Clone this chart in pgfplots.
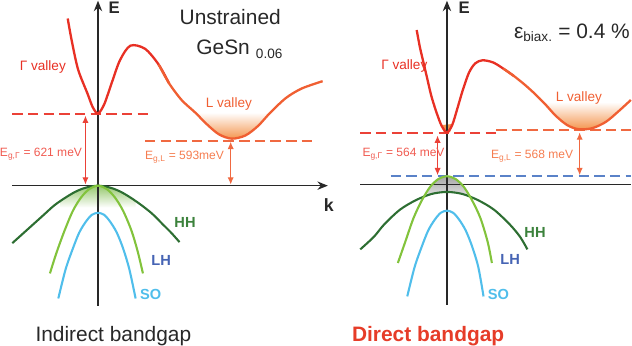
\documentclass[border=0pt]{standalone}
\usepackage{pgfplots}
\pgfplotsset{compat=1.18}
\usepackage{fontspec}
\setmainfont{Liberation Sans}
\usetikzlibrary{arrows.meta}
\definecolor{axgray}{RGB}{40,40,40}
\definecolor{gred}{RGB}{232,48,36}
\definecolor{lorange}{RGB}{240,95,50}
\definecolor{dashred}{RGB}{235,65,55}
\definecolor{dashorange}{RGB}{240,105,65}
\definecolor{eglab}{RGB}{240,90,80}
\definecolor{egllab}{RGB}{245,125,80}
\definecolor{fillorange}{RGB}{244,150,80}
\definecolor{hhgreen}{RGB}{45,110,50}
\definecolor{hhlab}{RGB}{60,130,60}
\definecolor{lhgreen}{RGB}{130,195,60}
\definecolor{socyan}{RGB}{80,190,235}
\definecolor{lhlab}{RGB}{70,100,180}
\definecolor{bluedash}{RGB}{90,130,200}
\definecolor{vbfill}{RGB}{150,200,110}
\definecolor{dirred}{RGB}{230,60,40}
\begin{document}
\begin{tikzpicture}
\begin{axis}[scale only axis, width=632pt, height=344pt,
  xmin=0, xmax=632, ymin=0, ymax=344, y dir=reverse,
  hide axis, clip=false]
% ---------- fills ----------
\addplot[draw=none, top color=white, bottom color=fillorange] coordinates {(195,118) (207,130) (218,139) (230,143) (243,140) (255,131) (267,118)};
\addplot[draw=none, top color=white, bottom color=fillorange] coordinates {(526,108) (530,112) (540,122) (551,130) (562,134) (575,133) (588,127) (600,117) (608,108)};
\addplot[draw=none, fill=fillorange] coordinates {(431,130) (441,129) (439,137) (433,137)};
\addplot[draw=none, top color=vbfill, bottom color=white] coordinates {(66,202) (75,197) (84,192) (93,189) (102,188) (111,189) (120,192) (129,197) (138,203) (138,209) (66,209)};
\addplot[draw=none, top color=gray!70, bottom color=gray!25] coordinates {(418,191) (422,186) (426,182) (431,179.6) (436,179) (441,179.6) (446,182) (450,186) (454,192) (456,197) (446,195) (436,194) (426,195) (417,197)};
% ---------- axes ----------
\addplot[axgray, line width=1.4pt, -{Stealth[length=10pt,width=8pt]}] coordinates {(102,303) (102,11)};
\addplot[axgray, line width=1.4pt, -{Stealth[length=10pt,width=8pt]}] coordinates {(20,188) (322,188)};
\addplot[axgray, line width=1.4pt, -{Stealth[length=10pt,width=8pt]}] coordinates {(436,302) (436,11)};
\addplot[axgray, line width=1.4pt] coordinates {(353,187) (612,187)};
% ---------- dashed levels ----------
\addplot[dashred, line width=1.8pt, dash pattern=on 10pt off 5pt] coordinates {(20,119) (153,119)};
\addplot[dashorange, line width=1.8pt, dash pattern=on 10pt off 5pt] coordinates {(147,145) (307,145)};
\addplot[dashred, line width=1.8pt, dash pattern=on 10pt off 5pt] coordinates {(353,138) (487,138)};
\addplot[dashorange, line width=1.8pt, dash pattern=on 10pt off 5pt] coordinates {(483,135) (612,135)};
\addplot[bluedash, line width=1.8pt, dash pattern=on 10pt off 5pt] coordinates {(382,179) (612,179)};
% ---------- gap arrows ----------
\addplot[dashred, line width=1.1pt, {Latex[length=7pt,width=6pt]}-{Latex[length=7pt,width=6pt]}] coordinates {(90,121) (90,187)};
\addplot[dashorange, line width=1.1pt, {Latex[length=7pt,width=6pt]}-{Latex[length=7pt,width=6pt]}] coordinates {(229,146) (229,187)};
\addplot[dashred, line width=1.1pt, {Latex[length=7pt,width=6pt]}-{Latex[length=7pt,width=6pt]}] coordinates {(427,140) (427,178)};
\addplot[dashorange, line width=1.1pt, {Latex[length=7pt,width=6pt]}-{Latex[length=7pt,width=6pt]}] coordinates {(563,137) (563,178)};
% ---------- conduction bands, left ----------
\addplot[gred, line width=2.2pt, smooth] coordinates {(73,28) (77,50) (83,77) (92,100) (97,113) (102,119) (108,110) (115,90) (123,68) (133,54) (147,57) (160,72) (170,90)};
\addplot[lorange, line width=2.2pt, smooth] coordinates {(160,72) (170,90) (182,106) (195,118) (207,130) (218,139) (230,143) (243,140) (255,131) (267,118) (282,104) (297,95) (317,88)};
% ---------- conduction bands, right ----------
\addplot[gred, line width=2.2pt, smooth] coordinates {(407,39) (410,55) (413,68) (417,85) (421,102) (426,118) (431,131) (436,137) (441,130) (446,114) (451,97) (457,80) (463,71) (470,68) (480,70) (490,76) (500,83)};
\addplot[lorange, line width=2.2pt, smooth] coordinates {(490,76) (500,83) (510,91) (520,100) (530,110) (540,121) (551,130) (562,134) (575,133) (588,127) (600,117) (612,106)};
% ---------- valence bands, left ----------
\addplot[hhgreen, line width=2pt, smooth] coordinates {(20,243) (30,234) (40,225) (50,216) (60,207) (70,200) (80,194) (90,190) (102,188) (114,190) (124,194) (134,200) (144,207) (154,215) (164,225) (172,233) (180,242)};
\addplot[lhgreen, line width=2pt, smooth] coordinates {(56,272) (62,253) (70,231) (78,212) (86,199) (94,191) (102,188) (110,191) (118,199) (126,212) (134,231) (140,251) (145,272)};
\addplot[socyan, line width=2pt, smooth] coordinates {(64,296) (71,268) (78,248) (84,233) (90,223) (96,216) (102,214) (108,216) (114,223) (120,233) (126,248) (132,268) (138,296)};
% ---------- valence bands, right ----------
\addplot[hhgreen, line width=2pt, smooth] coordinates {(353,249) (366,237) (376,225) (391,211) (406,202) (421,196) (436,194) (451,196) (466,202) (481,211) (496,225) (506,237) (513,249)};
\addplot[lhgreen, line width=2pt, smooth] coordinates {(389,262) (396,242) (404,219) (412,202) (420,189) (428,181.5) (436,179) (444,181.5) (452,189) (460,202) (468,219) (475,242) (479,262)};
\addplot[socyan, line width=2pt, smooth] coordinates {(398,294) (405,266) (412,246) (418,231) (424,221) (430,214) (436,212) (442,214) (448,221) (454,231) (460,246) (466,266) (471,294)};
% ---------- texts ----------
\node[anchor=base west, text=axgray, font=\fontsize{20}{24}\selectfont, inner sep=0pt] at (axis cs:180,34) {Unstrained};
\node[anchor=base west, text=axgray, font=\fontsize{20}{24}\selectfont, inner sep=0pt] at (axis cs:196,62) {GeSn};
\node[anchor=base west, text=axgray, font=\fontsize{13}{15}\selectfont, inner sep=0pt] at (axis cs:253,66) {0.06};
\node[anchor=base west, text=axgray, font=\fontsize{20}{24}\selectfont, inner sep=0pt] at (axis cs:500,47) {ε\textsubscript{\fontsize{13}{15}\selectfont biax.} = 0.4 \%};
\node[anchor=base west, text=axgray, font=\fontsize{16}{18}\selectfont\bfseries, inner sep=0pt] at (axis cs:112,23) {E};
\node[anchor=base west, text=axgray, font=\fontsize{16}{18}\selectfont\bfseries, inner sep=0pt] at (axis cs:447,23) {E};
\node[anchor=base west, text=axgray, font=\fontsize{17}{20}\selectfont\bfseries, inner sep=0pt] at (axis cs:318,213) {k};
\node[anchor=base west, text=gred, font=\fontsize{13}{15}\selectfont, inner sep=0pt] at (axis cs:27,78) {Γ valley};
\node[anchor=base west, text=lorange, font=\fontsize{13}{15}\selectfont, inner sep=0pt] at (axis cs:205,113) {L valley};
\node[anchor=base west, text=gred, font=\fontsize{13}{15}\selectfont, inner sep=0pt] at (axis cs:373,77) {Γ valley};
\node[anchor=base west, text=lorange, font=\fontsize{13}{15}\selectfont, inner sep=0pt] at (axis cs:540,107) {L valley};
\node[anchor=base west, text=eglab, font=\fontsize{11.5}{13}\selectfont, inner sep=0pt] at (axis cs:8,160) {E\textsubscript{g,Γ} = 621 meV};
\node[anchor=base west, text=egllab, font=\fontsize{11.5}{13}\selectfont, inner sep=0pt] at (axis cs:147,163) {E\textsubscript{g,L} = 593meV};
\node[anchor=base west, text=eglab, font=\fontsize{11.5}{13}\selectfont, inner sep=0pt] at (axis cs:355,160) {E\textsubscript{g,Γ} = 564 meV};
\node[anchor=base west, text=egllab, font=\fontsize{11.5}{13}\selectfont, inner sep=0pt] at (axis cs:478,162) {E\textsubscript{g,L} = 568 meV};
\node[anchor=base west, text=hhlab, font=\fontsize{14}{16}\selectfont\bfseries, inner sep=0pt] at (axis cs:175,228) {HH};
\node[anchor=base west, text=lhlab, font=\fontsize{14}{16}\selectfont\bfseries, inner sep=0pt] at (axis cs:153,264) {LH};
\node[anchor=base west, text=socyan, font=\fontsize{14}{16}\selectfont\bfseries, inner sep=0pt] at (axis cs:142,297) {SO};
\node[anchor=base west, text=hhlab, font=\fontsize{14}{16}\selectfont\bfseries, inner sep=0pt] at (axis cs:510,238) {HH};
\node[anchor=base west, text=lhlab, font=\fontsize{14}{16}\selectfont\bfseries, inner sep=0pt] at (axis cs:487,263) {LH};
\node[anchor=base west, text=socyan, font=\fontsize{14}{16}\selectfont\bfseries, inner sep=0pt] at (axis cs:475,297) {SO};
\node[anchor=base west, text=axgray, font=\fontsize{20}{24}\selectfont, inner sep=0pt] at (axis cs:42,337) {Indirect bandgap};
\node[anchor=base west, text=dirred, font=\fontsize{20}{24}\selectfont\bfseries, inner sep=0pt] at (axis cs:345,337) {Direct bandgap};
\end{axis}
\end{tikzpicture}
\end{document}
